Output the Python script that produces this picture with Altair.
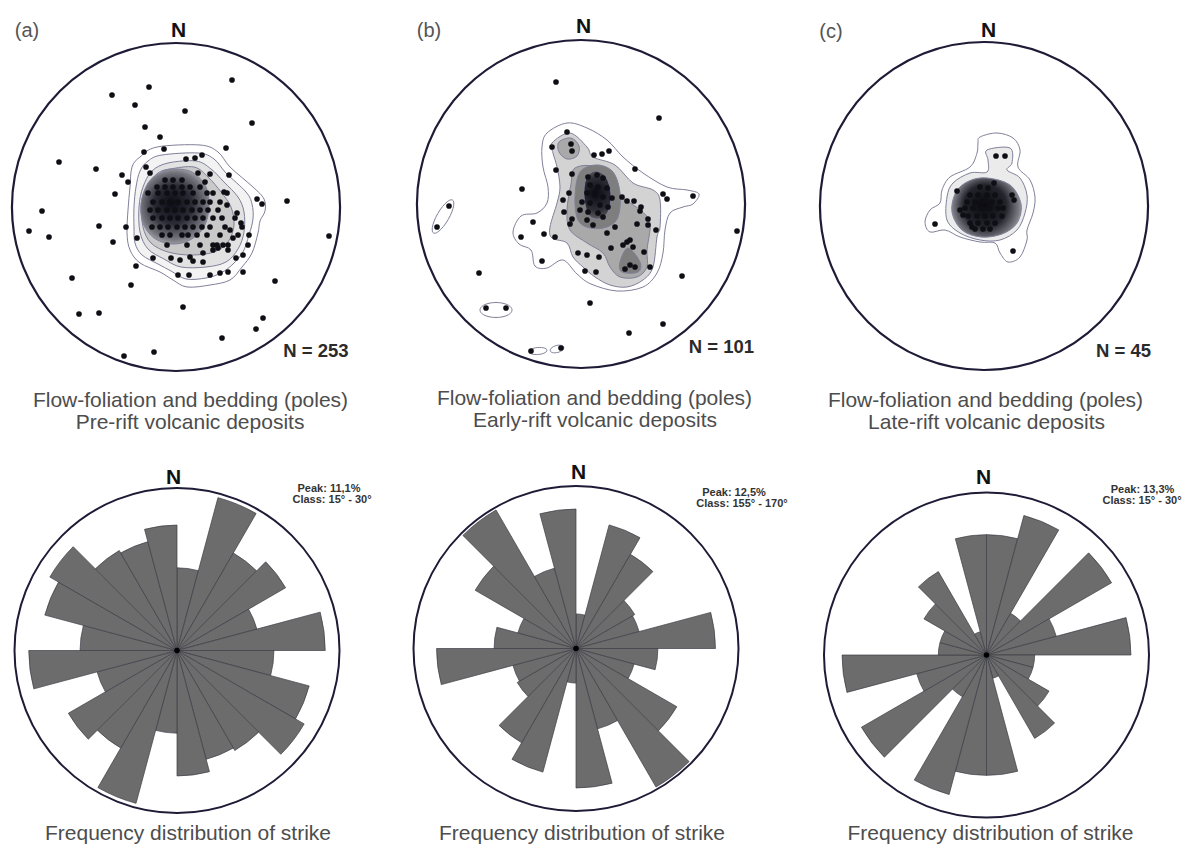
import math
import altair as alt
import pandas as pd

FONT = "Liberation Sans"

# ---------------------------------------------------------------------------
# Page layout (pixels)
# ---------------------------------------------------------------------------
NET_R = 164.0                      # primitive circle radius in net units
NET_RADIUS_PX = 164
NET_CENTRE = {"a": (176, 207), "b": (581, 204), "c": (984, 206)}
ROSE_RADIUS_PX = 162.5
ROSE_CENTRE = {"a": (177, 650.5), "b": (576, 648.5), "c": (986.5, 655)}

# ---------------------------------------------------------------------------
# Poles to flow-foliation / bedding (east, north offsets on the net)
# ---------------------------------------------------------------------------
POLES_A = [
    (56, 127), (-27, 120), (-64, 112), (-41, 102), (9, 96), (76, 84), (-31, 80),
    (-16, 70), (50, 59), (-12, 58), (-32, 55), (-117, 45), (-80, 38), (-54, 32),
    (-48, 25), (-30, 40), (-61, 13), (-134, -4), (-147, -24), (-127, -30),
    (-77, -19), (-50, -20), (-63, -35), (81, 8), (86, 3), (111, 6), (153, -29),
    (73, -28), (53, 32), (-40, -59), (-104, -71), (-45, -78), (99, -74), (7, -100),
    (-97, -107), (-77, -106), (87, -111), (80, -122), (46, -131), (-52, -149),
    (-22, -145),
    (-39, -31), (-23, -51), (-5, -51), (4, -53), (14, -50), (17, -54), (27, -46),
    (27, -55), (42, -41), (37, -43), (52, -43), (60, -51), (2, -68), (13, -68),
    (34, -68), (44, -66), (52, -65), (67, -65), (10, 48), (19, 49), (26, 52),
    (-26, 34), (22, 34), (34, 33), (29, 25), (48, 15), (67, -48), (57, -31),
    (54, -23), (65, -16), (61, -6), (51, 2), (51, 14),
    (-11, 27), (-3, 27), (6, 27),
    (-19, 20), (-11, 20), (-3, 20), (6, 20), (14, 20), (24, 20),
    (-28, 14), (-18, 14), (-9, 14), (-1, 14), (7, 14), (17, 14), (31, 14), (37, 14),
    (-23, 5), (-14, 5), (-6, 5), (2, 5), (11, 5), (19, 5), (27, 5), (34, 5), (44, 5),
    (-26, -3), (-18, -3), (-9, -3), (-1, -3), (7, -3), (16, -3), (24, -3), (32, -3), (42, -3),
    (-23, -11), (-14, -11), (-6, -11), (2, -11), (11, -11), (19, -11), (27, -11), (37, -11),
    (46, -11), (59, -11),
    (-24, -20), (-16, -20), (-8, -20), (1, -20), (9, -20), (17, -20), (26, -20), (34, -20),
    (49, -20), (66, -20),
    (-14, -28), (-6, -28), (6, -28), (12, -28), (21, -28), (31, -28), (44, -28), (62, -28),
    (-9, -38), (11, -38), (24, -38), (37, -38), (41, -38), (47, -38), (52, -38), (72, -38),
]

POLES_B = [
    (-25, 122), (78, 86), (-59, 15), (-132, -2), (-144, -23), (112, 8), (82, 10),
    (86, 5), (156, -27), (-48, -18), (-60, -33), (-37, -30), (-26, -33), (-39, -57),
    (-102, -69), (101, -72), (-95, -104), (-75, -104), (9, -99), (82, -120),
    (48, -129), (54, 35), (-50, -147), (-20, -144),
    (-14, 72), (-29, 57), (-10, 60), (-9, 53), (13, 49), (21, 50), (28, 53), (-25, 34),
    (-9, 30), (-12, 11), (-18, 4), (-17, -8), (41, 7), (46, 3), (53, 3), (60, -3),
    (59, -7), (67, -15), (67, -21), (56, -20), (75, -26), (-11, -20), (-9, -15),
    (7, 27), (16, 29), (22, 26), (9, 19), (17, 17), (26, 16), (6, 11), (14, 9), (22, 7),
    (31, 6), (1, 2), (9, 1), (19, -1), (27, -3), (-1, -6), (7, -8), (17, -9), (22, -13),
    (6, -16), (12, -21), (26, -29), (34, -23), (-3, -49), (6, -51), (18, -53), (30, -44),
    (42, -41), (46, -38), (49, -36), (52, -43), (63, -48), (4, -67), (15, -68),
    (44, -65), (49, -61), (54, -63), (69, -63),
]

POLES_C = [
    (12, 50), (21, 50), (10, 23), (-27, 15), (28, 11), (30, 6), (-24, -4), (-49, -18),
    (-12, -21), (29, -45),
    (-14, 11), (-6, 11), (3, 11), (11, 11),
    (-17, 4), (-9, 4), (-1, 4), (8, 4), (16, 4),
    (-19, -2), (-11, -2), (-2, -2), (6, -2), (14, -2),
    (-16, -10), (-7, -10), (1, -10), (9, -10), (18, -10),
    (-14, -17), (-6, -17), (3, -17), (11, -17),
    (-9, -23), (-1, -23), (6, -23),
    (-4, 19), (4, 18), (19, -2), (-21, -9),
]

# ---------------------------------------------------------------------------
# Density contours (closed outlines, east/north on the net), lowest level first
# ---------------------------------------------------------------------------
CONTOURS_A = [
    ("outer", [[(-19, 60), (24, 62), (42, 55), (54, 40), (77, 20), (88, 8), (89, -4),
                (84, -14), (82, -26), (76, -46), (66, -60), (54, -73), (34, -78),
                (11, -80), (-3, -73), (-16, -65), (-36, -56), (-46, -43), (-49, -26),
                (-48, -3), (-46, 20), (-44, 40), (-36, 50)]]),
    ("pale", [[(-14, 52), (22, 54), (38, 48), (50, 34), (70, 15), (76, 3), (77, -12),
               (73, -28), (67, -45), (57, -57), (45, -66), (30, -71), (10, -72),
               (-5, -64), (-18, -57), (-34, -48), (-41, -36), (-42, -20), (-42, 0),
               (-40, 20), (-36, 36), (-28, 46)]]),
    ("light", [[(-8, 44), (20, 46), (35, 38), (48, 25), (62, 10), (68, -5), (68, -25),
                (62, -42), (50, -55), (30, -60), (5, -60), (-12, -52), (-28, -42),
                (-36, -25), (-37, 0), (-33, 20), (-24, 36)]]),
    ("mid", [[(-6, 38), (18, 40), (32, 30), (45, 15), (55, 0), (58, -18), (52, -35),
              (38, -45), (15, -48), (-8, -45), (-25, -36), (-33, -20), (-34, 2),
              (-28, 22), (-18, 34)]]),
    ("core", [[(-4, 38), (16, 35), (30, 20), (33, 0), (28, -20), (14, -33), (-4, -37),
               (-22, -31), (-33, -16), (-35, 4), (-28, 24), (-16, 34)]]),
]

CONTOURS_B = [
    ("outer", [[(-34, 71), (-14, 81), (6, 76), (26, 64), (42, 47), (62, 31), (86, 17),
                (106, 14), (118, 10), (112, 0), (102, -3), (89, -9), (84, -26), (82, -49),
                (76, -69), (62, -83), (36, -87), (10, -80), (-4, -70), (-18, -56),
                (-34, -64), (-46, -62), (-50, -46), (-62, -40), (-68, -28), (-60, -12),
                (-44, -9), (-34, 1), (-33, 17), (-38, 37), (-39, 57)]]),
    ("light", [[(-29, 61), (-11, 71), (6, 57), (12, 47), (34, 39), (52, 21), (72, 14),
                (79, 4), (79, -23), (76, -33), (72, -63), (62, -76), (46, -83), (29, -81),
                (14, -73), (2, -63), (-8, -53), (-14, -39), (-29, -34), (-31, -23),
                (-24, 1), (-21, 17), (-24, 37), (-28, 51)]]),
    ("mid", [[(-22, 62), (-10, 66), (-2, 58), (-4, 48), (-14, 45), (-22, 52)],
             [(-6, 36), (16, 36), (36, 11), (59, -6), (69, -19), (66, -46), (66, -63),
              (56, -73), (39, -73), (29, -63), (22, -49), (6, -39), (-11, -26),
              (-14, -6), (-10, 20)]]),
    ("dark", [[(-1, 32), (16, 39), (32, 32), (39, 11), (37, -13), (26, -23), (9, -24),
               (-3, -16), (-6, 7)],
              [(47, -44), (59, -58), (57, -68), (41, -68), (39, -58)]]),
    ("core", [[(14, 33), (25, 27), (30, 10), (27, -8), (17, -15), (7, -10), (3, 8), (5, 25)]]),
]

# isolated low-density closures: centre east, centre north, semi-axes, tilt (deg)
ISLANDS_B = [(-138, -12.5, 19, 6, 60), (-85, -106, 16, 7.5, 0),
             (-43, -147, 9, 3.5, 5), (-24, -145, 7, 3.5, 15)]

CONTOURS_C = [
    ("outer", [[(-4, 69), (13, 73), (29, 68), (36, 56), (34, 39), (46, 26), (51, 9),
                (49, -7), (43, -24), (43, -34), (36, -51), (24, -56), (16, -47), (11, -37),
                (-4, -36), (-24, -31), (-39, -24), (-54, -26), (-59, -16), (-54, -4),
                (-44, 3), (-42, 16), (-34, 29), (-14, 39), (-7, 53), (-6, 63)]]),
    ("light", [[(3, 56), (26, 58), (28, 43), (23, 36), (36, 28), (43, 11), (41, -7),
                (33, -24), (16, -34), (-4, -34), (-24, -27), (-37, -14), (-37, 9),
                (-31, 23), (-14, 33), (3, 34), (4, 46)]]),
    ("core", [[(3, 28), (26, 21), (37, 2), (33, -17), (18, -28), (-3, -31), (-22, -24),
               (-32, -6), (-28, 14), (-15, 25)]]),
]

# ---------------------------------------------------------------------------
# Strike rose diagrams: % per 15° class, 0-15° ... 165-180° (bidirectional)
# ---------------------------------------------------------------------------
ROSE_A = [5.8, 11.1, 7.9, 8.8, 5.8, 10.4, 6.8, 9.6, 10.3, 8.1, 7.9, 8.8]
ROSE_B = [2.7, 10.0, 8.5, 5.3, 5.1, 10.9, 6.4, 4.7, 9.1, 12.5, 6.5, 10.9]
ROSE_C_COUNTS = [5, 6, 2, 6, 3, 6, 2, 2, 3, 4, 1, 5]
ROSE_C_N = 45
ROSE_C = [100.0 * c / ROSE_C_N for c in ROSE_C_COUNTS]
ROSE_OUTER_PCT = {"a": 11.4, "b": 12.7, "c": 15.0}

# ---------------------------------------------------------------------------
# Styles
# ---------------------------------------------------------------------------
RING = "#1d1b36"
CONTOUR_STROKE = "#80809a"
DOT = "#0e0e14"
PETAL = "#6c6c6c"
PETAL_EDGE = "#3c3c46"


def radial(stops):
    return alt.RadialGradient(
        gradient="radial",
        stops=[alt.GradientStop(offset=o, color=c) for o, c in stops],
        x1=0.45, y1=0.45, r1=0, x2=0.5, y2=0.5, r2=0.56,
    )


FILLS = {
    "a": {"outer": "#ffffff", "pale": "#f3f3f3", "light": "#e2e2e2", "mid": "#c9c9c9",
          "core": radial([(0, "#0c0c14"), (0.45, "#2a2a34"), (0.8, "#777780"), (1, "#bdbdbd")])},
    "b": {"outer": "#ffffff", "light": "#d3d3d3", "mid": "#a9a9a9", "dark": "#7e7e7e",
          "core": radial([(0, "#0a0a12"), (0.6, "#2c2c34"), (1, "#6a6a6a")])},
    "c": {"outer": "#ffffff", "light": "#ebebeb",
          "core": radial([(0, "#08080e"), (0.55, "#24242c"), (0.85, "#7c7c84"), (1, "#c4c4c4")])},
}
CONTOURS = {"a": CONTOURS_A, "b": CONTOURS_B, "c": CONTOURS_C}
POLES = {"a": POLES_A, "b": POLES_B, "c": POLES_C}


def ellipse(ce, cn, a, b, tilt, steps=28):
    t = math.radians(tilt)
    pts = []
    for k in range(steps):
        u = 2 * math.pi * k / steps
        x, y = a * math.cos(u), b * math.sin(u)
        pts.append((ce + x * math.cos(t) - y * math.sin(t), cn + x * math.sin(t) + y * math.cos(t)))
    return pts


def poly_frame(polys):
    rows = []
    for j, poly in enumerate(polys):
        for i, (e, n) in enumerate(poly):
            rows.append({"poly": j, "i": i, "e": e, "n": n})
    return pd.DataFrame(rows)


def stereonet(key):
    cx, cy = NET_CENTRE[key]
    xs = alt.Scale(domain=[-NET_R, NET_R], range=[cx - NET_RADIUS_PX, cx + NET_RADIUS_PX],
                   nice=False, zero=False)
    ys = alt.Scale(domain=[-NET_R, NET_R], range=[cy + NET_RADIUS_PX, cy - NET_RADIUS_PX],
                   nice=False, zero=False)

    def xy():
        return dict(x=alt.X("e:Q", scale=xs, axis=None), y=alt.Y("n:Q", scale=ys, axis=None))

    layers = []
    levels = list(CONTOURS[key])
    if key == "b":
        levels.insert(0, ("outer", [ellipse(*p) for p in ISLANDS_B]))
    for level, polys in levels:
        layers.append(
            alt.Chart(poly_frame(polys)).mark_line(
                fill=FILLS[key][level], stroke=CONTOUR_STROKE, strokeWidth=1,
                interpolate="cardinal-closed",
            ).encode(detail="poly:N", order="i:Q", **xy())
        )
    poles = pd.DataFrame(POLES[key], columns=["e", "n"])
    layers.append(alt.Chart(poles).mark_circle(size=32, color=DOT, opacity=1).encode(**xy()))
    ring = pd.DataFrame({"e": [0.0], "n": [0.0], "r": [NET_R]})
    layers.append(
        alt.Chart(ring).mark_arc(filled=False, color=RING, strokeWidth=2.2).encode(
            theta=alt.value(0), theta2=alt.value(2 * math.pi),
            radius=alt.Radius("r:Q", scale=alt.Scale(type="linear", domain=[0, NET_R],
                                                      range=[0, NET_RADIUS_PX])),
            **xy())
    )
    return alt.layer(*layers)


def rose(key, values):
    cx, cy = ROSE_CENTRE[key]
    rows = [{"a0": 15 * k, "a1": 15 * (k + 1), "pct": values[k % 12]} for k in range(24)]
    th = alt.Scale(domain=[0, 360], range=[0, 2 * math.pi])
    rs = alt.Scale(type="linear", domain=[0, ROSE_OUTER_PCT[key]], range=[0, ROSE_RADIUS_PX],
                   nice=False)
    petals = alt.Chart(pd.DataFrame(rows)).mark_arc(
        color=PETAL, stroke=PETAL_EDGE, strokeWidth=0.7
    ).encode(
        x=alt.value(cx), y=alt.value(cy),
        theta=alt.Theta("a0:Q", scale=th), theta2="a1:Q",
        radius=alt.Radius("pct:Q", scale=rs),
    )
    ring = alt.Chart(pd.DataFrame({"pct": [ROSE_OUTER_PCT[key]]})).mark_arc(
        filled=False, color=RING, strokeWidth=2
    ).encode(
        x=alt.value(cx), y=alt.value(cy),
        theta=alt.value(0), theta2=alt.value(2 * math.pi),
        radius=alt.Radius("pct:Q", scale=rs),
    )
    hub = alt.Chart(pd.DataFrame({"k": [0]})).mark_circle(size=30, color="#000000", opacity=1).encode(
        x=alt.value(cx), y=alt.value(cy))
    return alt.layer(petals, ring, hub)


def label(text, x, y, size, color="#111111", weight="normal", baseline="middle"):
    return alt.Chart(pd.DataFrame({"t": [text]})).mark_text(
        font=FONT, fontSize=size, fontWeight=weight, color=color,
        align="center", baseline=baseline,
    ).encode(x=alt.value(x), y=alt.value(y), text="t:N")


TITLE_GREY = "#4d4d4d"
PEAK_GREY = "#333333"
texts = [
    label("(a)", 27, 31, 20, "#555555"), label("(b)", 429, 31, 20, "#555555"),
    label("(c)", 831, 32, 20, "#555555"),
    label("N", 178.5, 31, 21, weight="bold"), label("N", 583.5, 27, 21, weight="bold"),
    label("N", 988.5, 30.5, 21, weight="bold"),
    label("N = 253", 316, 351, 18.5, "#2b2b2b", "bold"),
    label("N = 101", 721.5, 347, 18.5, "#2b2b2b", "bold"),
    label("N = 45", 1123.5, 350.5, 18.5, "#2b2b2b", "bold"),
    label("Flow-foliation and bedding (poles)", 190.5, 407, 21, TITLE_GREY, baseline="alphabetic"),
    label("Pre-rift volcanic deposits", 190, 428.5, 21, TITLE_GREY, baseline="alphabetic"),
    label("Flow-foliation and bedding (poles)", 594.5, 405, 21, TITLE_GREY, baseline="alphabetic"),
    label("Early-rift volcanic deposits", 595, 427, 21, TITLE_GREY, baseline="alphabetic"),
    label("Flow-foliation and bedding (poles)", 985.5, 407, 21, TITLE_GREY, baseline="alphabetic"),
    label("Late-rift volcanic deposits", 986.5, 429, 21, TITLE_GREY, baseline="alphabetic"),
    label("N", 173.5, 478, 21, weight="bold"), label("N", 578.5, 473, 21, weight="bold"),
    label("N", 983.5, 478, 21, weight="bold"),
    label("Peak: 11,1%", 329, 488.5, 11, PEAK_GREY, "bold"),
    label("Class: 15° - 30°", 332, 500, 11, PEAK_GREY, "bold"),
    label("Peak: 12,5%", 734, 492.5, 11, PEAK_GREY, "bold"),
    label("Class: 155° - 170°", 742, 504, 11, PEAK_GREY, "bold"),
    label("Peak: 13,3%", 1142.5, 489.5, 11, PEAK_GREY, "bold"),
    label("Class: 15° - 30°", 1142, 501, 11, PEAK_GREY, "bold"),
    label("Frequency distribution of strike", 188, 840, 21, TITLE_GREY, baseline="alphabetic"),
    label("Frequency distribution of strike", 582, 840, 21, TITLE_GREY, baseline="alphabetic"),
    label("Frequency distribution of strike", 990.5, 840, 21, TITLE_GREY, baseline="alphabetic"),
]

panels = [stereonet("a"), stereonet("b"), stereonet("c"),
          rose("a", ROSE_A), rose("b", ROSE_B), rose("c", ROSE_C)]

chart = alt.layer(*panels, *texts).resolve_scale(
    x="independent", y="independent", radius="independent", theta="independent"
).properties(
    width=1191, height=849, padding=0,
    autosize=alt.AutoSizeParams(type="none"), background="white",
).configure_view(stroke=None)

chart.save("out.html", embed_options={"renderer": "svg", "actions": False})
